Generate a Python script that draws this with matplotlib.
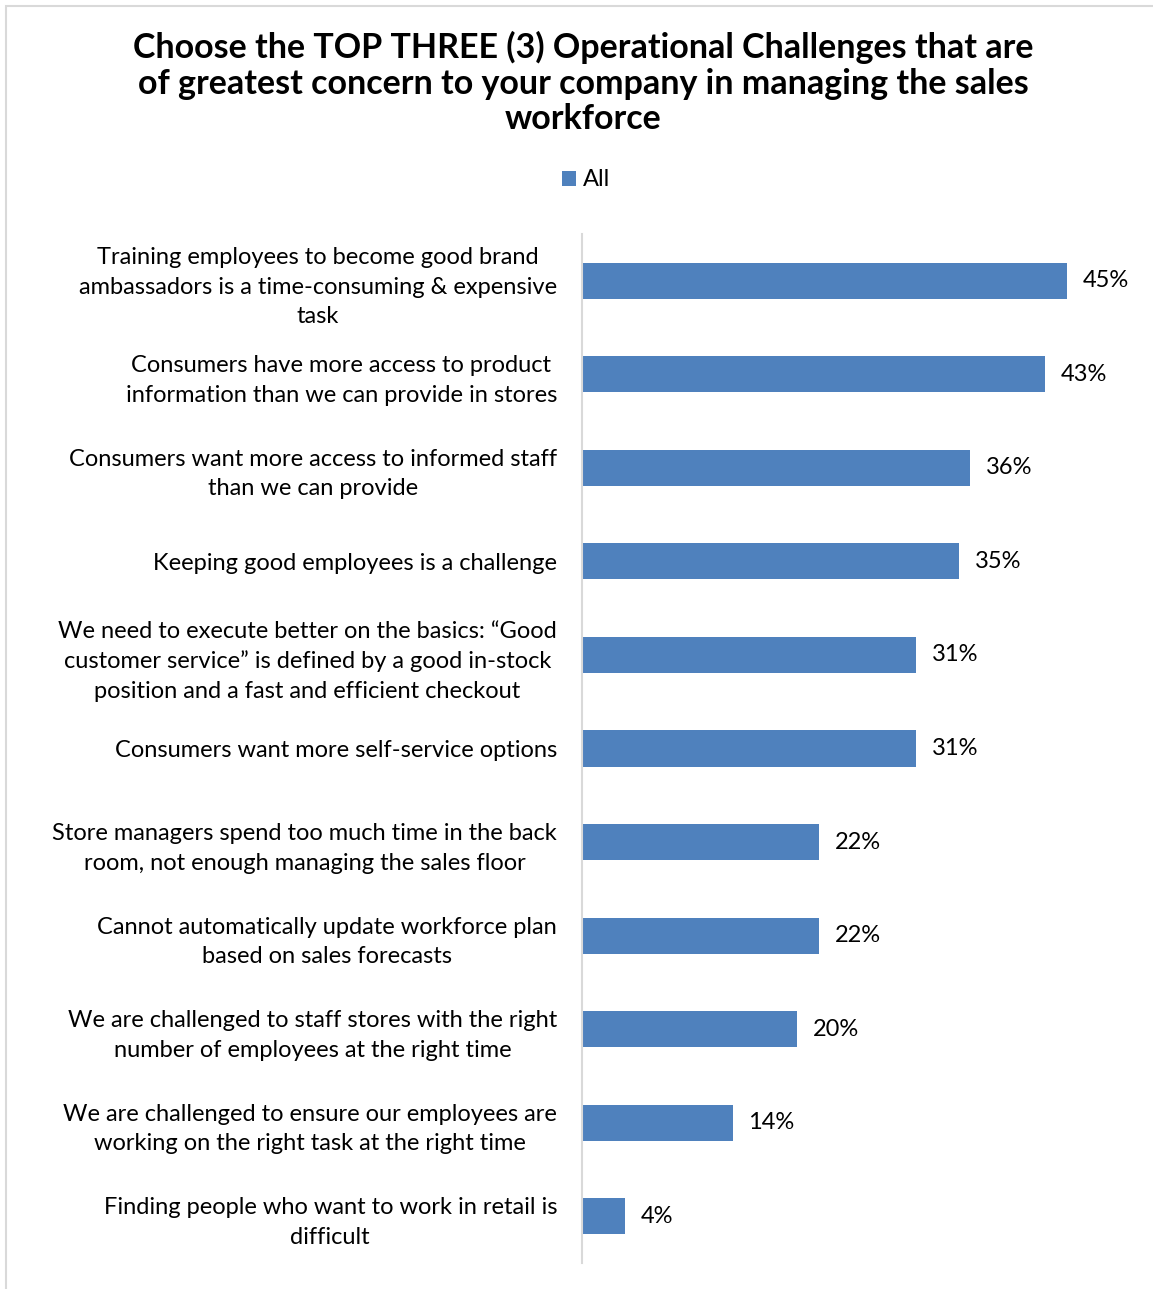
import matplotlib
matplotlib.use("Agg")
import matplotlib.pyplot as plt
from matplotlib.patches import Rectangle

plt.rcParams['font.family'] = ['Lato', 'DejaVu Sans']

# survey answers, top to bottom
challenges = [
    "Training employees to become good brand\nambassadors is a time-consuming & expensive\ntask",
    "Consumers have more access to product\ninformation than we can provide in stores",
    "Consumers want more access to informed staff\nthan we can provide",
    "Keeping good employees is a challenge",
    "We need to execute better on the basics: \u201cGood\ncustomer service\u201d is defined by a good in-stock\nposition and a fast and efficient checkout",
    "Consumers want more self-service options",
    "Store managers spend too much time in the back\nroom, not enough managing the sales floor",
    "Cannot automatically update workforce plan\nbased on sales forecasts",
    "We are challenged to staff stores with the right\nnumber of employees at the right time",
    "We are challenged to ensure our employees are\nworking on the right task at the right time",
    "Finding people who want to work in retail is\ndifficult",
]
share_all = [45, 43, 36, 35, 31, 31, 22, 22, 20, 14, 4]

W, H = 1153, 1289
fig = plt.figure(figsize=(W / 100, H / 100), dpi=100)

# outer chart frame (runs off the right and bottom edges)
fig.patches.append(Rectangle((6 / W, -0.1), 1.2, 1 - 6 / H + 0.1,
                             transform=fig.transFigure, fill=False,
                             edgecolor="#D9D9D9", linewidth=1.5))

ax_left, ax_top, ax_bot = 582, 234, 1263
xmax = 53.0
ax = fig.add_axes([ax_left / W, 1 - ax_bot / H, (W - ax_left) / W, (ax_bot - ax_top) / H])

pos = list(range(len(challenges)))
ax.barh(pos, share_all, height=0.385, color="#4F81BD", label="All")
ax.set_ylim(len(challenges) - 0.5, -0.5)
ax.set_xlim(0, xmax)

for p, v in zip(pos, share_all):
    ax.text(v + 1.45, p, f"{v}%", va="center", ha="left", fontsize=17)

ax.set_yticks(pos)
ax.set_yticklabels(challenges, fontsize=17, multialignment="center", linespacing=1.5)
ax.tick_params(axis="y", length=0, pad=18)
ax.set_xticks([])
for s in ["top", "right", "bottom"]:
    ax.spines[s].set_visible(False)
ax.spines["left"].set_color("#D9D9D9")
ax.spines["left"].set_linewidth(1.5)

fig.text(583 / W, 1 - 83 / H,
         "Choose the TOP THREE (3) Operational Challenges that are\n"
         "of greatest concern to your company in managing the sales\nworkforce",
         ha="center", va="center", fontsize=24.5, fontweight="bold", linespacing=1.15)

fig.legend(loc="center", bbox_to_anchor=(586 / W, 1 - 180 / H), frameon=False,
           fontsize=17, handlelength=0.6, handleheight=0.6, handletextpad=0.3)

fig.savefig("out.png", dpi=100)
